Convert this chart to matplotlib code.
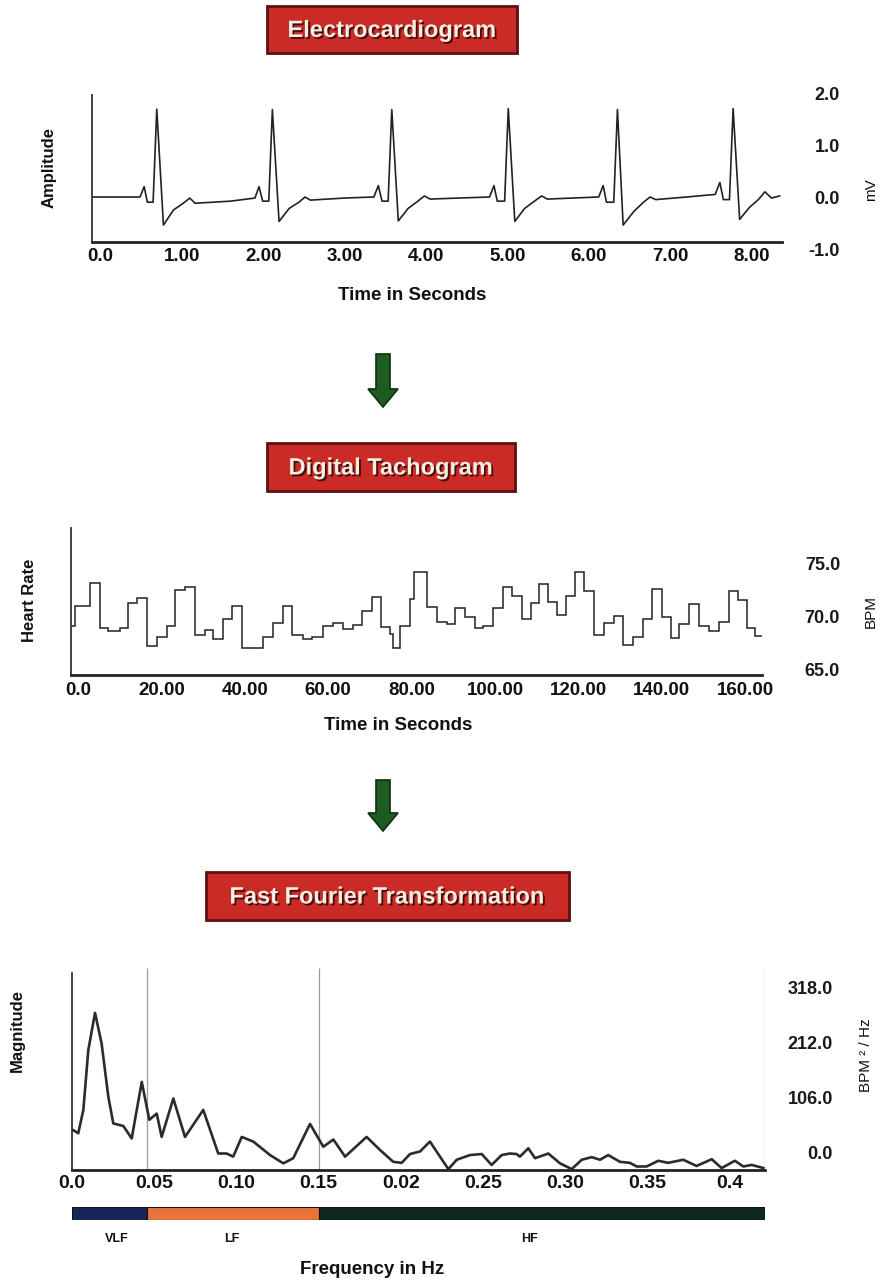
import matplotlib
matplotlib.use('Agg')
import matplotlib.pyplot as plt
import matplotlib.patheffects as pe
from matplotlib.patches import Rectangle, Polygon
from matplotlib import font_manager

# ---------------- data ----------------
# Electrocardiogram (time in s, amplitude in mV)
ecg_t = [-0.10, 0.49, 0.54, 0.58, 0.65, 0.695, 0.777, 0.90, 1.02, 1.10, 1.165, 1.60, 1.90,
         1.95, 1.995, 2.07, 2.114, 2.196, 2.32, 2.44, 2.515, 2.58, 3.00, 3.36,
         3.415, 3.46, 3.535, 3.58, 3.66, 3.78, 3.90, 3.98, 4.05, 4.40, 4.78,
         4.834, 4.875, 4.965, 5.01, 5.09, 5.21, 5.34, 5.42, 5.49, 5.80, 6.12,
         6.175, 6.215, 6.305, 6.35, 6.42, 6.55, 6.67, 6.75, 6.82, 7.20, 7.55,
         7.607, 7.65, 7.725, 7.77, 7.85, 7.97, 8.08, 8.16, 8.24, 8.34]
ecg_mv = [0.0, 0.0, 0.20, -0.10, -0.10, 1.69, -0.54, -0.25, -0.12, -0.02, -0.12, -0.08, -0.02,
          0.20, -0.08, -0.08, 1.68, -0.47, -0.22, -0.10, 0.0, -0.06, -0.02, 0.0,
          0.22, -0.08, -0.08, 1.68, -0.46, -0.22, -0.08, 0.02, -0.04, -0.02, 0.0,
          0.22, -0.08, -0.08, 1.70, -0.47, -0.22, -0.07, 0.02, -0.04, -0.02, 0.0,
          0.22, -0.10, -0.10, 1.68, -0.54, -0.28, -0.10, 0.0, -0.05, 0.0, 0.05,
          0.28, -0.05, -0.05, 1.70, -0.43, -0.20, -0.05, 0.10, -0.02, 0.02]
ecg_xticks = [0, 1, 2, 3, 4, 5, 6, 7, 8]
ecg_xlabels = ['0.0', '1.00', '2.00', '3.00', '4.00', '5.00', '6.00', '7.00', '8.00']
ecg_yticks = [-1.0, 0.0, 1.0, 2.0]
ecg_ylabels = ['-1.0', '0.0', '1.0', '2.0']

# Digital tachogram (step edges in s, heart rate in BPM)
tacho_edges = [-1.5, -0.7, 2.9, 5.3, 7.3, 10.1, 12.1, 14.1, 16.6, 18.9, 21.3, 23.3, 25.7, 28.1,
               30.5, 32.4, 34.8, 36.9, 39.3, 44.4, 46.8, 49.1, 51.2, 54.0, 56.0, 58.8, 61.2,
               63.6, 66.0, 68.0, 70.4, 72.6, 74.8, 75.6, 77.2, 79.6, 80.6, 83.6, 86.0, 88.4,
               90.4, 92.8, 95.2, 97.2, 99.6, 102.0, 104.0, 106.4, 108.6, 110.6, 112.8, 114.8,
               117.0, 119.2, 121.3, 123.6, 126.0, 128.4, 130.6, 133.0, 135.4, 137.6, 140.0,
               142.1, 144.2, 146.6, 149.0, 151.4, 153.8, 156.0, 158.3, 160.4, 162.3, 163.9]
tacho_bpm = [69.1, 71.0, 73.15, 68.9, 68.6, 68.9, 71.3, 71.8, 67.2, 68.1, 69.1, 72.5, 72.8,
             68.3, 68.75, 67.9, 69.75, 71.0, 67.0, 68.1, 69.4, 71.0, 68.3, 67.9, 68.1, 69.1,
             69.4, 68.8, 69.2, 70.5, 71.9, 69.0, 68.4, 67.0, 69.1, 71.7, 74.2, 70.9, 69.5,
             69.3, 70.8, 70.0, 68.9, 69.1, 70.8, 72.8, 71.95, 69.75, 71.3, 73.1, 71.4, 70.15,
             71.95, 74.2, 72.4, 68.3, 69.4, 70.05, 67.3, 68.1, 69.75, 72.6, 70.0, 67.95,
             69.3, 71.2, 69.1, 68.6, 69.45, 72.4, 71.6, 68.9, 68.2]
tacho_xticks = [0, 20, 40, 60, 80, 100, 120, 140, 160]
tacho_xlabels = ['0.0', '20.00', '40.00', '60.00', '80.00', '100.00', '120.00', '140.00', '160.00']
tacho_yticks = [65, 70, 75]
tacho_ylabels = ['65.0', '70.0', '75.0']

# Fast Fourier Transformation (frequency in Hz, magnitude in BPM^2/Hz)
fft_hz = [0.0008, 0.0038, 0.0069, 0.0099, 0.014, 0.018, 0.0221, 0.0251, 0.0312, 0.0363, 0.0424,
          0.047, 0.0515, 0.0545, 0.0616, 0.0687, 0.0798, 0.0889, 0.094, 0.098, 0.1032, 0.1102,
          0.1204, 0.1285, 0.1345, 0.1447, 0.1528, 0.1589, 0.166, 0.1791, 0.1872, 0.1953,
          0.2004, 0.2055, 0.2116, 0.2176, 0.2237, 0.2288, 0.2339, 0.2419, 0.2491, 0.2551,
          0.2612, 0.2663, 0.2703, 0.2723, 0.2774, 0.2815, 0.2896, 0.2967, 0.3038, 0.3099,
          0.3159, 0.321, 0.326, 0.3331, 0.3392, 0.3433, 0.3493, 0.3564, 0.3625, 0.3716,
          0.3797, 0.3889, 0.3949, 0.403, 0.4081, 0.4132, 0.4203]
fft_mag = [44, 38, 83, 198, 270, 211, 108, 57, 52, 28, 137, 64, 76, 31, 105, 31, 83, -1, -1, -7,
           31, 22, -4, -20, -10, 56, 12, 26, -7, 31, 6, -17, -19, -2, 3, 22, -7, -31, -13, -4,
           -2, -23, -4, -1, -2, -7, 9, -10, -1, -20, -31, -13, -8, -13, -4, -17, -19, -26, -26,
           -15, -19, -13, -25, -12, -29, -15, -26, -23, -29]
fft_xticks = [0.0, 0.05, 0.10, 0.15, 0.20, 0.25, 0.30, 0.35, 0.40]
fft_xlabels = ['0.0', '0.05', '0.10', '0.15', '0.02', '0.25', '0.30', '0.35', '0.4']
fft_yticks = [0.0, 106.0, 212.0, 318.0]
fft_ylabels = ['0.0', '106.0', '212.0', '318.0']
band_names = ['VLF', 'LF', 'HF']
band_edges = [0.0, 0.0454, 0.150, 0.4213]
band_colors = ['#17265a', '#e8743a', '#0e2a20']
band_label_hz = [0.027, 0.097, 0.278]

# ---------------- layout helpers ----------------
W, H = 885, 1283
fig = plt.figure(figsize=(W / 100, H / 100), dpi=100)
fig.patch.set_facecolor('white')

names = {f.name for f in font_manager.fontManager.ttflist}
NARROW = 'Liberation Sans Narrow' if 'Liberation Sans Narrow' in names else 'Liberation Sans'
SANS = 'Liberation Sans'
INK = '#222222'


def rect(x0, y0, x1, y1):
    return [x0 / W, 1 - y1 / H, (x1 - x0) / W, (y1 - y0) / H]


def fpt(x, y):
    return (x / W, 1 - y / H)


def title_box(x0, y0, x1, y1, text):
    fig.patches.append(Rectangle(fpt(x0 + 2, y1 + 2), (x1 - x0) / W, (y1 - y0) / H,
                                 transform=fig.transFigure, facecolor='#c4c4c4',
                                 edgecolor='none', zorder=1))
    fig.patches.append(Rectangle(fpt(x0, y1), (x1 - x0) / W, (y1 - y0) / H,
                                 transform=fig.transFigure, facecolor='#cb2b27',
                                 edgecolor='#5e1210', linewidth=2.0, zorder=2))
    cx, cy = fpt((x0 + x1) / 2, (y0 + y1) / 2 + 1)
    fig.text(cx, cy, text, ha='center', va='center', color='#f6eee2',
             fontsize=17, fontfamily=NARROW, fontweight='bold', zorder=3,
             path_effects=[pe.withSimplePatchShadow(offset=(1.3, -1.3),
                                                    shadow_rgbFace='#3a0806', alpha=0.9)])


def down_arrow(cx, ytop, yhead, ytip):
    pts = [(cx - 7, ytop), (cx + 7, ytop), (cx + 7, yhead), (cx + 15, yhead),
           (cx, ytip), (cx - 15, yhead), (cx - 7, yhead)]
    fig.patches.append(Polygon([fpt(x, y) for x, y in pts], closed=True,
                               transform=fig.transFigure, facecolor='#1f5c22',
                               edgecolor='#0c2e0e', linewidth=1.2, zorder=2))


def style_axes(ax, left_bounds, bottom_pos, right_pad_px, xpad_px, tick_fs, rtick_fs):
    ax.spines['top'].set_visible(False)
    ax.spines['right'].set_visible(False)
    ax.spines['left'].set_bounds(*left_bounds)
    ax.spines['left'].set_color('#333333')
    ax.spines['left'].set_linewidth(1.3)
    ax.spines['bottom'].set_position(('data', bottom_pos))
    ax.spines['bottom'].set_color('#222222')
    ax.spines['bottom'].set_linewidth(2.0)
    ax.yaxis.tick_right()
    ax.tick_params(axis='y', length=0, pad=right_pad_px * 0.72)
    ax.tick_params(axis='x', length=0, pad=xpad_px * 0.72)
    for lab in ax.get_xticklabels():
        lab.set_fontfamily(NARROW)
        lab.set_fontweight('bold')
        lab.set_fontsize(tick_fs)
        lab.set_color('#111111')
    for lab in ax.get_yticklabels():
        lab.set_fontfamily(SANS)
        lab.set_fontweight('bold')
        lab.set_fontsize(rtick_fs)
        lab.set_ha('right')
        lab.set_color('#1a1a1a')
    ax.set_facecolor('none')


# ---------------- Electrocardiogram ----------------
title_box(267, 6, 517, 53, 'Electrocardiogram')
ax1 = fig.add_axes(rect(92, 80, 782, 262))
ax1.plot(ecg_t, ecg_mv, color=INK, lw=1.2, solid_joinstyle='round')
ax1.set_xlim(-0.1, 8.37)
ax1.set_ylim(-1.25, 2.25)
ax1.set_xticks(ecg_xticks, ecg_xlabels)
ax1.set_yticks(ecg_yticks, ecg_ylabels)
style_axes(ax1, (-0.865, 1.96), -0.865, 58, 6, 13.5, 13)
fig.text(*fpt(412, 296), 'Time in Seconds', ha='center', va='center',
         fontfamily=SANS, fontweight='bold', fontsize=13.5, color='#111111')
fig.text(*fpt(49, 168), 'Amplitude', ha='center', va='center', rotation=90,
         fontfamily=SANS, fontweight='bold', fontsize=12, color='#111111')
fig.text(*fpt(871, 190), 'mV', ha='center', va='center', rotation=90,
         fontfamily=SANS, fontsize=11, color='#111111')

down_arrow(383, 354, 389, 407)

# ---------------- Digital Tachogram ----------------
title_box(267, 443, 515, 491, 'Digital Tachogram')
ax2 = fig.add_axes(rect(70.5, 520, 762, 690))
ax2.stairs(tacho_bpm, tacho_edges, baseline=None, color=INK, lw=1.1)
ax2.set_xlim(-1.8, 164.0)
ax2.set_ylim(63.08, 79.12)
ax2.set_xticks(tacho_xticks, tacho_xlabels)
ax2.set_yticks(tacho_yticks, tacho_ylabels)
style_axes(ax2, (64.5, 78.37), 64.5, 78, 7, 13.5, 13)
fig.text(*fpt(398, 725), 'Time in Seconds', ha='center', va='center',
         fontfamily=SANS, fontweight='bold', fontsize=13.5, color='#111111')
fig.text(*fpt(29, 600), 'Heart Rate', ha='center', va='center', rotation=90,
         fontfamily=SANS, fontweight='bold', fontsize=12, color='#111111')
fig.text(*fpt(871, 612), 'BPM', ha='center', va='center', rotation=90,
         fontfamily=SANS, fontsize=11, color='#111111')

down_arrow(383, 780, 813, 831)

# ---------------- Fast Fourier Transformation ----------------
title_box(206, 872, 569, 920, 'Fast Fourier Transformation')
ax3 = fig.add_axes(rect(72, 960, 765, 1175))
ax3.set_xlim(0.0, 0.4213)
ax3.set_ylim(-42.4, 371.9)
ax3.vlines([band_edges[1], band_edges[2], band_edges[3]], -32.8, 356.0,
           colors='#9a9a9a', linewidth=0.9, zorder=1)
ax3.plot(fft_hz, fft_mag, color='#2b2b2b', lw=1.9, solid_joinstyle='round', zorder=3)
ax3.set_xticks(fft_xticks, fft_xlabels)
ax3.set_yticks(fft_yticks, fft_ylabels)
style_axes(ax3, (-32.8, 346.8), -32.8, 68, 5, 14, 13)

# frequency band bar
axb = fig.add_axes(rect(72, 1207, 765, 1220))
axb.set_xlim(0.0, 0.4213)
axb.set_ylim(0, 1)
axb.barh([0.5] * 3, [band_edges[i + 1] - band_edges[i] for i in range(3)],
         left=band_edges[:3], height=1.0, color=band_colors, edgecolor='#111111',
         linewidth=0.8)
axb.axis('off')
for name, f in zip(band_names, band_label_hz):
    axb.text(f, -1.5, name, ha='center', va='center', transform=axb.transData,
             fontfamily=NARROW, fontweight='bold', fontsize=9, color='#111111',
             clip_on=False)

fig.text(*fpt(372, 1270), 'Frequency in Hz', ha='center', va='center',
         fontfamily=SANS, fontweight='bold', fontsize=13.5, color='#111111')
fig.text(*fpt(17, 1030), 'Magnitude', ha='center', va='center', rotation=90,
         fontfamily=SANS, fontweight='bold', fontsize=12, color='#111111')
fig.text(*fpt(866, 1055), 'BPM ² / Hz', ha='center', va='center', rotation=90,
         fontfamily=SANS, fontsize=11, color='#111111')

fig.savefig('out.png', dpi=100, facecolor='white')
